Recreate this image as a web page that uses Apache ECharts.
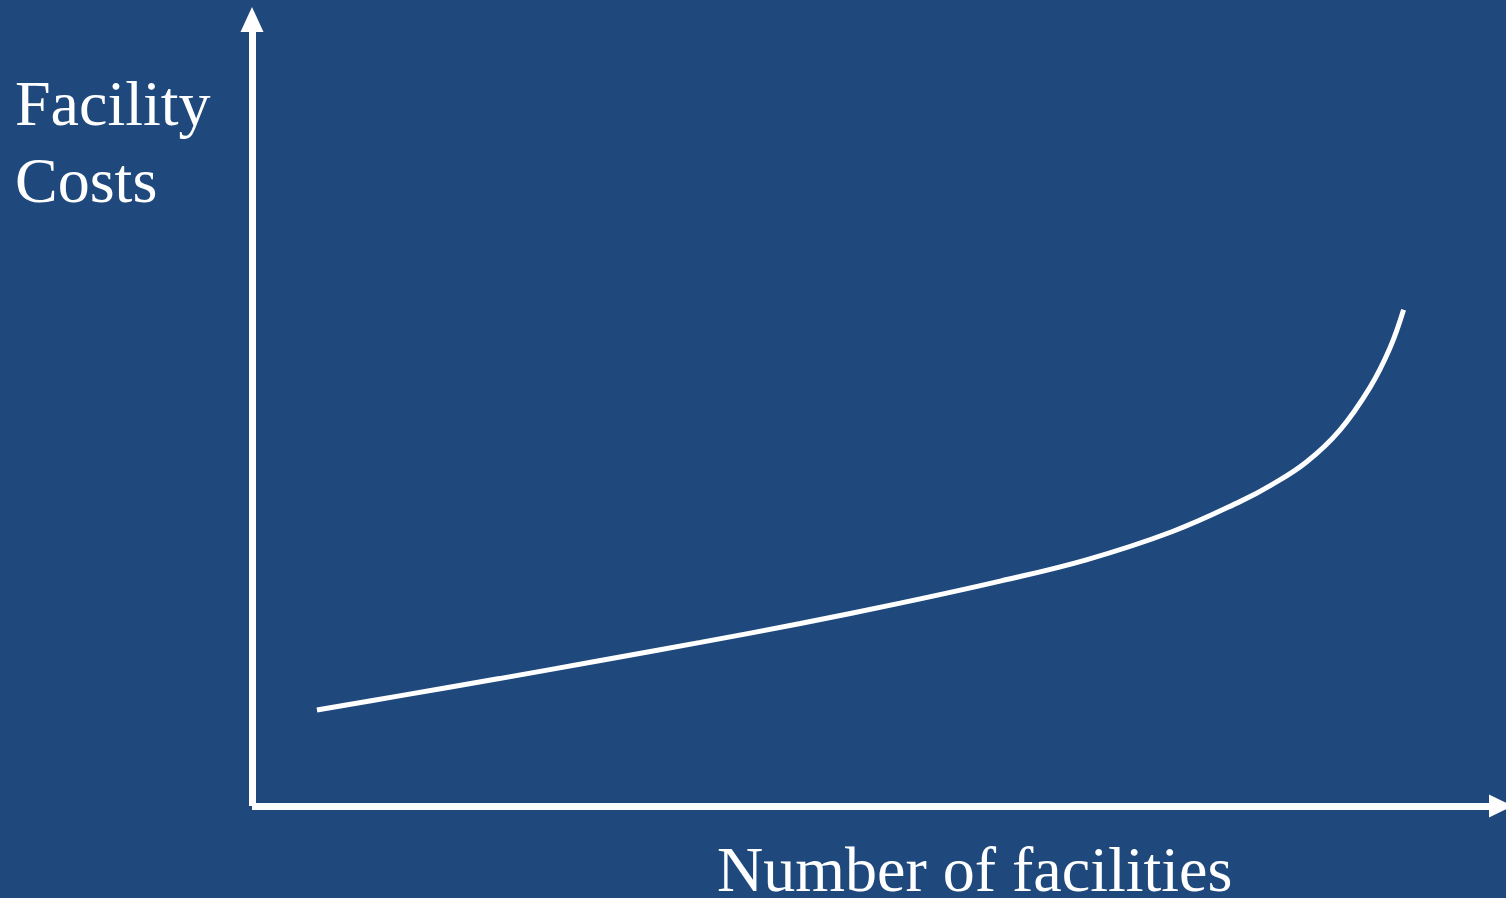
<!DOCTYPE html>
<html>
<head>
<meta charset="utf-8">
<script src="https://cdn.jsdelivr.net/npm/echarts@6/dist/echarts.min.js"></script>
<style>
html, body { margin: 0; padding: 0; background: #1f497d; }
#chart { width: 1506px; height: 898px; }
</style>
</head>
<body>
<div id="chart"></div>
<script>
// facilities (relative scale 0-100) vs facility cost (relative scale 0-100)
var facilities = [5.2, 11.8, 19.8, 27.9, 35.9, 43.9, 51.9, 59.9, 66.8, 73.7, 79.1, 81.7, 84.4, 87.1, 89.5, 91.1, 92.2];
var costs = [12.2, 14.0, 16.2, 18.5, 20.8, 23.2, 25.8, 28.6, 31.3, 34.9, 38.7, 40.9, 43.7, 47.8, 53.2, 58.2, 63.1];
var yTitle = 'Facility\nCosts';
var xTitle = 'Number of facilities';

var points = [];
for (var i = 0; i < facilities.length; i++) {
    points.push([facilities[i], costs[i]]);
}

var chart = echarts.init(document.getElementById('chart'));
var axisLine = {
    show: true,
    symbol: ['none', 'triangle'],
    lineStyle: { color: '#fff', width: 7, cap: 'butt' }
};

chart.setOption({
    backgroundColor: '#1f497d',
    animation: false,
    grid: { left: 252, right: 5, top: 19.5, bottom: 92 },
    xAxis: {
        type: 'value', min: 0, max: 100,
        axisLine: echarts.util.merge({ symbolSize: [23, 24] }, axisLine),
        axisTick: { show: false }, axisLabel: { show: false }, splitLine: { show: false }
    },
    yAxis: {
        type: 'value', min: 0, max: 100,
        axisLine: echarts.util.merge({ symbolSize: [23, 25] }, axisLine),
        axisTick: { show: false }, axisLabel: { show: false }, splitLine: { show: false }
    },
    graphic: [{
        type: 'text', x: 15, y: 70,
        style: {
            text: yTitle, fill: '#fff', lineHeight: 77,
            font: '64px "Liberation Serif", "Times New Roman", serif',
            textVerticalAlign: 'top'
        }
    }, {
        type: 'text', x: 717, y: 842,
        style: {
            text: xTitle, fill: '#fff',
            font: '64px "Liberation Serif", "Times New Roman", serif',
            textVerticalAlign: 'top'
        }
    }],
    series: [{
        type: 'line',
        data: points,
        smooth: 0.4,
        showSymbol: false,
        lineStyle: { color: '#fff', width: 5, cap: 'butt' }
    }]
});
</script>
</body>
</html>
